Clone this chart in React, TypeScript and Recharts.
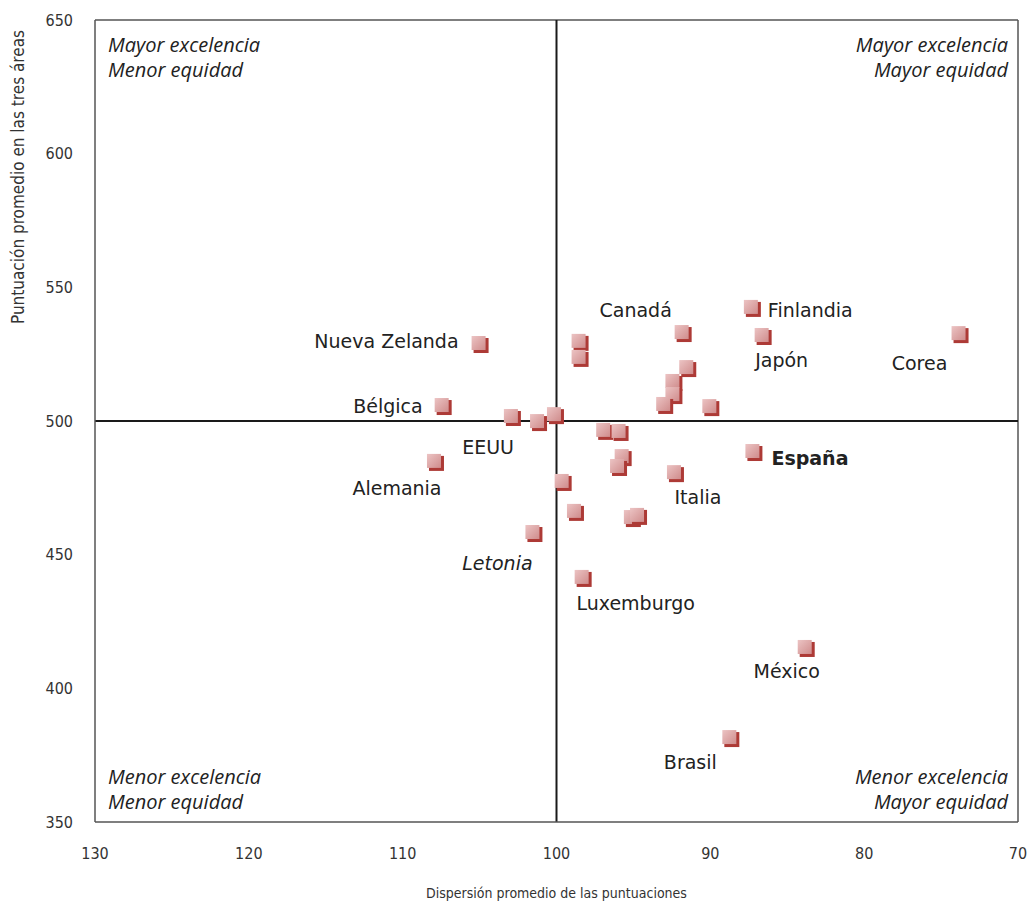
import React from "react";
import {
  ScatterChart,
  Scatter,
  XAxis,
  YAxis,
  ReferenceLine,
  ReferenceArea,
} from "recharts";

// country name ("" = unlabelled point)
const countries = [
  "Nueva Zelanda", "Bélgica", "Alemania", "", "EEUU", "", "Letonia", "", "",
  "Luxemburgo", "", "", "Canadá", "", "", "", "", "", "Finlandia", "Japón",
  "Corea", "", "", "", "", "Italia", "España", "", "", "México", "Brasil",
];

// dispersión promedio de las puntuaciones
const dispersion = [
  105.0, 107.4, 107.9, 102.9, 101.2, 100.1, 101.5, 99.6, 98.8,
  98.3, 98.5, 98.5, 91.8, 91.5, 92.4, 92.4, 93.0, 90.0, 87.3, 86.6,
  73.8, 96.9, 95.9, 95.7, 96.0, 92.3, 87.2, 95.1, 94.7, 83.8, 88.7,
];

// puntuación promedio en las tres áreas
const score = [
  528.8, 505.6, 484.7, 501.5, 499.6, 502.2, 458.1, 477.2, 466.0,
  441.3, 529.6, 523.6, 532.9, 519.8, 514.6, 509.7, 506.0, 505.2, 542.3, 531.8,
  532.5, 496.3, 495.9, 486.5, 482.8, 480.5, 488.4, 463.7, 464.5, 415.1, 381.4,
];

const xTicks = [130, 120, 110, 100, 90, 80, 70];
const yTicks = [350, 400, 450, 500, 550, 600, 650];

const data = countries.map((name, i) => ({ name, x: dispersion[i], y: score[i] }));

// where each country's name sits relative to its marker
const labelPos: Record<string, { dx: number; dy: number; anchor: string; bold?: boolean; italic?: boolean }> = {
  "Nueva Zelanda": { dx: -21, dy: -3, anchor: "end" },
  "Bélgica": { dx: -20, dy: 0, anchor: "end" },
  "EEUU": { dx: -50, dy: 25, anchor: "middle" },
  "Alemania": { dx: -38, dy: 26, anchor: "middle" },
  "Letonia": { dx: -36, dy: 30, anchor: "middle", italic: true },
  "Luxemburgo": { dx: 53, dy: 25, anchor: "middle" },
  "Canadá": { dx: -47, dy: -23, anchor: "middle" },
  "Finlandia": { dx: 16, dy: 2, anchor: "start" },
  "Japón": { dx: 19, dy: 24, anchor: "middle" },
  "Corea": { dx: -40, dy: 29, anchor: "middle" },
  "Italia": { dx: 23, dy: 24, anchor: "middle" },
  "España": { dx: 18, dy: 6, anchor: "start", bold: true },
  "México": { dx: -19, dy: 23, anchor: "middle" },
  "Brasil": { dx: -40, dy: 24, anchor: "middle" },
};

const narrow = "'Liberation Sans Narrow', 'DejaVu Sans Condensed', sans-serif";
const labelFont = "'DejaVu Sans', sans-serif";
const italicFont = "'Open Sans', sans-serif";

const Marker = (props: any) => {
  const { cx, cy, payload } = props;
  if (cx == null || cy == null) return null;
  const pos = payload && payload.name ? labelPos[payload.name] : undefined;
  return (
    <g>
      <rect x={cx - 6} y={cy - 6} width={15} height={15} fill="#ad3a36" />
      <rect x={cx - 8} y={cy - 8} width={14} height={14} fill="url(#markerFill)" />
      {pos && (
        <text
          x={cx + pos.dx}
          y={cy + pos.dy}
          textAnchor={pos.anchor as any}
          dominantBaseline="central"
          fontFamily={labelFont}
          fontSize={19}
          fontWeight={pos.bold ? "bold" : "normal"}
          fontStyle={pos.italic ? "italic" : "normal"}
          fill="#222"
        >
          {payload.name}
        </text>
      )}
    </g>
  );
};

const quadrant = (lines: string[], side: "left" | "right", vert: "top" | "bottom") => (props: any) => {
  const vb = props.viewBox || { x: 0, y: 0, width: 0, height: 0 };
  const x = side === "left" ? vb.x + 13 : vb.x + vb.width - 10;
  const y0 = vert === "top" ? vb.y + 24 : vb.y + vb.height - 46;
  return (
    <g>
      {lines.map((t, i) => (
        <text
          key={i}
          x={x}
          y={y0 + i * 25}
          textAnchor={side === "left" ? "start" : "end"}
          dominantBaseline="central"
          fontFamily={italicFont}
          fontStyle="italic"
          fontSize={20}
          fill="#222"
        >
          {t}
        </text>
      ))}
    </g>
  );
};

const YTitle = (props: any) => {
  const vb = props.viewBox || { x: 0, y: 20 };
  return (
    <text
      transform={`translate(${vb.x + 18},${vb.y + 157}) rotate(-90)`}
      textAnchor="middle"
      dominantBaseline="central"
      fontFamily={narrow}
      fontSize={17}
      fill="#333"
    >
      Puntuación promedio en las tres áreas
    </text>
  );
};

const XTitle = (props: any) => {
  const vb = props.viewBox || { x: 95, y: 822, width: 923 };
  return (
    <text
      x={vb.x + vb.width / 2}
      y={vb.y + 71}
      textAnchor="middle"
      dominantBaseline="central"
      fontFamily={narrow}
      fontSize={14}
      fill="#333"
    >
      Dispersión promedio de las puntuaciones
    </text>
  );
};

export default function App() {
  return (
    <div style={{ position: "absolute", left: 0, top: 0, width: 1027, height: 902, background: "#fff" }}>
      <ScatterChart width={1027} height={902} margin={{ top: 20, right: 9, bottom: 0, left: 0 }}>
        <defs>
          <linearGradient id="markerFill" x1="0" y1="0" x2="1" y2="1">
            <stop offset="0%" stopColor="#ecc4c4" />
            <stop offset="100%" stopColor="#cf8c8c" />
          </linearGradient>
        </defs>
        <XAxis
          type="number"
          dataKey="x"
          domain={[70, 130]}
          reversed
          ticks={xTicks}
          height={80}
          tickLine={false}
          tickSize={0}
          tickMargin={26}
          stroke="#555"
          strokeWidth={1.5}
          tick={{ fill: "#333", fontFamily: narrow, fontSize: 16 }}
          allowDataOverflow
          label={<XTitle />}
        />
        <YAxis
          type="number"
          dataKey="y"
          domain={[350, 650]}
          ticks={yTicks}
          width={95}
          tickLine={false}
          tickSize={0}
          tickMargin={22}
          stroke="#555"
          strokeWidth={1.5}
          tick={{ fill: "#333", fontFamily: narrow, fontSize: 16 }}
          allowDataOverflow
          label={<YTitle />}
        />
        <ReferenceArea x1={130} x2={100} y1={500} y2={650} fill="none" stroke="none"
          label={quadrant(["Mayor excelencia", "Menor equidad"], "left", "top")} />
        <ReferenceArea x1={100} x2={70} y1={500} y2={650} fill="none" stroke="none"
          label={quadrant(["Mayor excelencia", "Mayor equidad"], "right", "top")} />
        <ReferenceArea x1={130} x2={100} y1={350} y2={500} fill="none" stroke="none"
          label={quadrant(["Menor excelencia", "Menor equidad"], "left", "bottom")} />
        <ReferenceArea x1={100} x2={70} y1={350} y2={500} fill="none" stroke="none"
          label={quadrant(["Menor excelencia", "Mayor equidad"], "right", "bottom")} />
        <ReferenceLine y={650} stroke="#555" strokeWidth={1.5} />
        <ReferenceLine x={70} stroke="#555" strokeWidth={1.5} />
        <ReferenceLine y={500} stroke="#1a1a1a" strokeWidth={2} />
        <ReferenceLine x={100} stroke="#1a1a1a" strokeWidth={2} />
        <Scatter data={data} shape={<Marker />} isAnimationActive={false} />
      </ScatterChart>
    </div>
  );
}
